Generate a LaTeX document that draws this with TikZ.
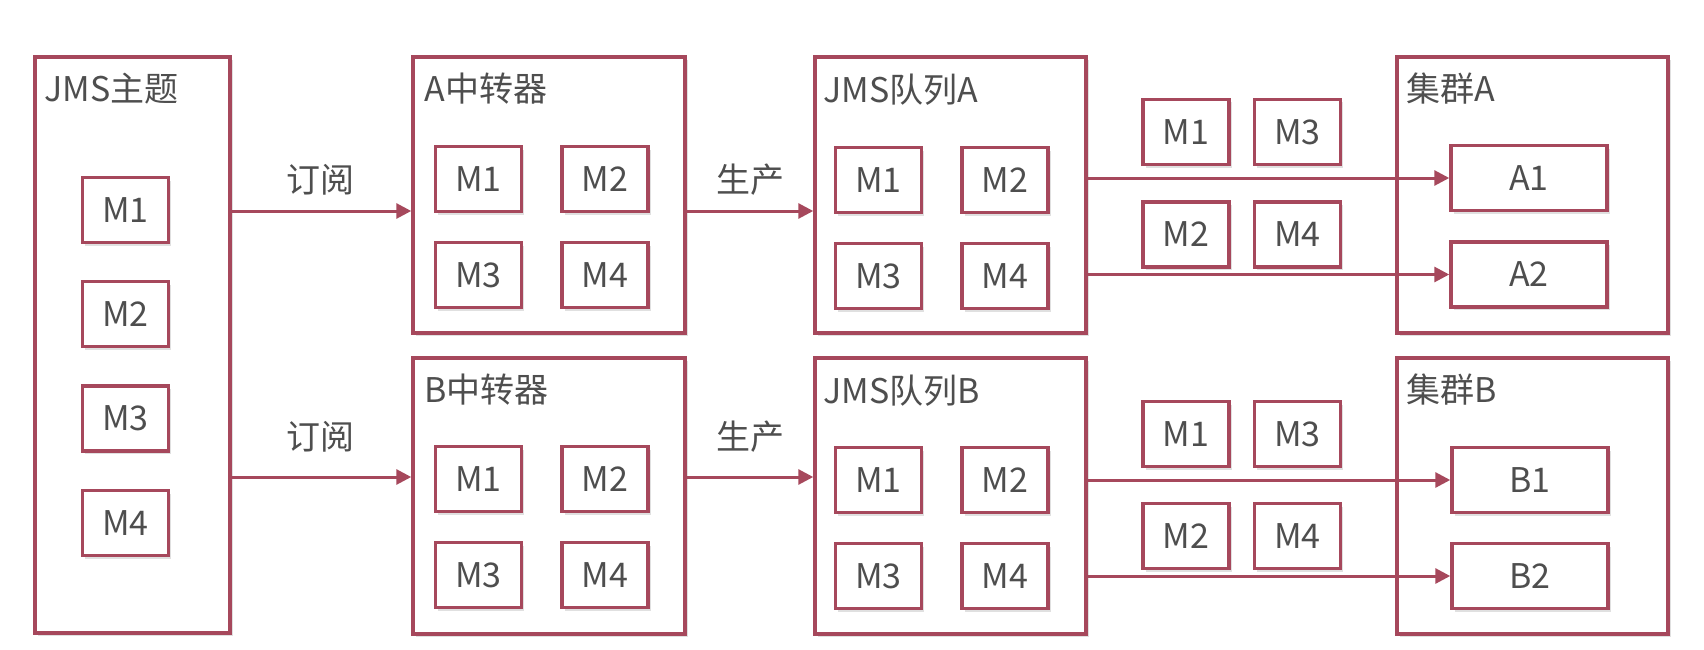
\documentclass[tikz,border=0pt]{standalone}
\usepackage{fontspec}
\setmainfont{Noto Sans CJK SC}
\usetikzlibrary{arrows.meta,shadows}
\definecolor{jred}{RGB}{166,72,92}
\definecolor{jtext}{RGB}{78,78,78}
\begin{document}
\begin{tikzpicture}[x=1pt,y=-1pt,
  frame/.style={draw=jred,line width=3.5pt,fill=white,inner sep=0pt,
    drop shadow={shadow xshift=2.5pt,shadow yshift=-3pt,opacity=0.12,fill=black}},
  msg/.style={frame,minimum width=86pt,minimum height=65pt,text=jtext,font=\fontsize{34}{40}\selectfont},
  wide/.style={msg,minimum width=156pt},
  ttl/.style={anchor=west,inner sep=0pt,text=jtext,font=\fontsize{34}{40}\selectfont},
  lbl/.style={inner sep=0pt,text=jtext,font=\fontsize{34}{40}\selectfont},
  arr/.style={draw=jred,line width=3pt,-{Triangle[length=15pt,width=15pt]}}
]
\fill[white] (0,0) rectangle (1704,650);
\useasboundingbox (0,0) rectangle (1704,650);

% big containers
\node[frame,minimum width=195pt,minimum height=576pt] (T) at (132.5,345) {};
\node[frame,minimum width=272pt,minimum height=276pt] (RA) at (549,195) {};
\node[frame,minimum width=272pt,minimum height=276pt] (RB) at (549,496) {};
\node[frame,minimum width=271pt,minimum height=276pt] (QA) at (950.5,195) {};
\node[frame,minimum width=271pt,minimum height=276pt] (QB) at (950.5,496) {};
\node[frame,minimum width=271pt,minimum height=276pt] (CA) at (1532.5,195) {};
\node[frame,minimum width=271pt,minimum height=276pt] (CB) at (1532.5,496) {};

% titles
\node[ttl] (tT)  at ([xshift=11pt,yshift=-33pt]T.north west) {JMS主题};
\node[ttl] (tRA) at ([xshift=13pt,yshift=-33pt]RA.north west) {A中转器};
\node[ttl] (tRB) at ([xshift=13pt,yshift=-33pt]RB.north west) {B中转器};
\node[ttl] (tQA) at ([xshift=10pt,yshift=-34pt]QA.north west) {JMS队列A};
\node[ttl] (tQB) at ([xshift=10pt,yshift=-34pt]QB.north west) {JMS队列B};
\node[ttl] (tCA) at ([xshift=11pt,yshift=-33pt]CA.north west) {集群A};
\node[ttl] (tCB) at ([xshift=11pt,yshift=-33pt]CB.north west) {集群B};

% topic messages
\node[msg] (T1) at (125.5,210) {M1};
\node[msg] (T2) at (125.5,314) {M2};
\node[msg] (T3) at (125.5,418.5) {M3};
\node[msg] (T4) at (125.5,523) {M4};

% relay A / B messages
\node[msg] (RA1) at (478.5,179) {M1};
\node[msg] (RA2) at (605,179) {M2};
\node[msg] (RA3) at (478.5,275) {M3};
\node[msg] (RA4) at (605,275) {M4};
\node[msg] (RB1) at (478.5,479) {M1};
\node[msg] (RB2) at (605,479) {M2};
\node[msg] (RB3) at (478.5,575) {M3};
\node[msg] (RB4) at (605,575) {M4};

% queue A / B messages
\node[msg] (QA1) at (878.5,180) {M1};
\node[msg] (QA2) at (1005,180) {M2};
\node[msg] (QA3) at (878.5,276) {M3};
\node[msg] (QA4) at (1005,276) {M4};
\node[msg] (QB1) at (878.5,480) {M1};
\node[msg] (QB2) at (1005,480) {M2};
\node[msg] (QB3) at (878.5,576) {M3};
\node[msg] (QB4) at (1005,576) {M4};

% messages in transit
\node[msg] (XA1) at (1186,132) {M1};
\node[msg] (XA3) at (1297.5,132) {M3};
\node[msg] (XA2) at (1186,234.5) {M2};
\node[msg] (XA4) at (1297.5,234.5) {M4};
\node[msg] (XB1) at (1186,434) {M1};
\node[msg] (XB3) at (1297.5,434) {M3};
\node[msg] (XB2) at (1186,536) {M2};
\node[msg] (XB4) at (1297.5,536) {M4};

% cluster members
\node[wide] (A1) at (1529,178) {A1};
\node[wide] (A2) at (1529,274.5) {A2};
\node[wide] (B1) at (1530,480) {B1};
\node[wide] (B2) at (1530,576) {B2};

% arrow rows
\coordinate (ya) at (0,211);
\coordinate (yb) at (0,477);

\draw[arr] (T.east |- ya) -- (RA.west |- ya);
\draw[arr] (T.east |- yb) -- (RB.west |- yb);
\draw[arr] (RA.east |- ya) -- (QA.west |- ya);
\draw[arr] (RB.east |- yb) -- (QB.west |- yb);

\draw[arr] (QA.east |- A1) -- (A1.west);
\draw[arr] (QA.east |- A2) -- (A2.west);
\draw[arr] (QB.east |- B1) -- (B1.west);
\draw[arr] (QB.east |- B2) -- (B2.west);

% labels
\node[lbl] (sA) at (320,180) {订阅};
\node[lbl] (sB) at (320,437) {订阅};
\node[lbl] (pA) at (750,180) {生产};
\node[lbl] (pB) at (750,437) {生产};
\end{tikzpicture}
\end{document}
